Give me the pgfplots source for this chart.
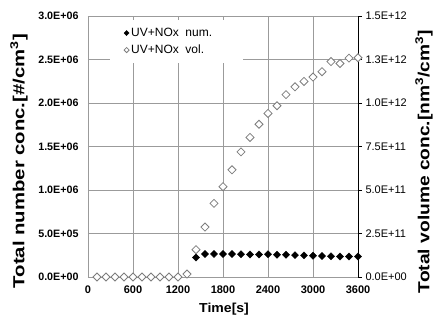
\documentclass[border=0pt]{standalone}
\usepackage{fontspec}
\setmainfont{Liberation Sans}
\usepackage{pgfplots}
\pgfplotsset{compat=1.18}
\definecolor{gridgray}{RGB}{155,155,155}
\definecolor{markgray}{RGB}{125,125,125}
\pgfplotsset{small mark legend/.style={legend image code/.code={\draw[##1, mark size=1.8pt] plot coordinates {(0.12cm,0cm)};}}}
\begin{document}
\begin{tikzpicture}
\path[use as bounding box] (-88pt,-43pt) rectangle (350pt,277pt);
\begin{axis}[
  at={(0,0)}, anchor=south west,
  scale only axis, width=270pt, height=261pt,
  xmin=0, xmax=3600, ymin=0, ymax=3000000,
  xtick={0,600,...,3600},
  ytick={0,500000,1000000,1500000,2000000,2500000,3000000},
  yticklabels={0.0E+00,5.0E+05,1.0E+06,1.5E+06,2.0E+06,2.5E+06,3.0E+06},
  scaled y ticks=false, scaled x ticks=false,
  grid=major, major grid style={gridgray, line width=0.6pt},
  axis line style={gridgray, line width=0.6pt},
  major tick length=0pt,
  /pgf/number format/assume math mode=true,
  /pgf/number format/1000 sep={},
  xticklabel style={font=\fontsize{11}{12}\selectfont\bfseries, yshift=-5pt},
  yticklabel style={font=\fontsize{10.7}{12}\selectfont\bfseries, xshift=-6pt},
  xlabel={\scalebox{1.08}[1]{Time[s]}},
  xlabel style={font=\fontsize{13}{15}\selectfont\bfseries, at={(axis description cs:0.504,-0.1226)}, anchor=center},
  ylabel={\scalebox{1.27}[1]{Total number conc.[\#/cm\textsuperscript{3}]}},
  ylabel style={font=\fontsize{16}{18}\selectfont\bfseries, at={(axis description cs:-0.2556,0.444)}, anchor=center},
]
\addplot[only marks, mark=square*, mark size=2.5pt, mark options={rotate=45, draw=black, fill=black}] coordinates {
(1440,224000) (1560,264000) (1680,265000) (1800,264000) (1920,264000)
(2040,262000) (2160,259000) (2280,259000) (2400,262000) (2520,256000)
(2640,256000) (2760,252000) (2880,248000) (3000,244000) (3120,241000)
(3240,238000) (3360,235000) (3480,235000) (3600,235000)
};
\end{axis}
\begin{axis}[
  at={(0,0)}, anchor=south west,
  scale only axis, width=270pt, height=261pt,
  xmin=0, xmax=3600, ymin=0, ymax=1.5e12,
  axis x line=none, axis y line*=right,
  ytick={0,2.5e11,5e11,7.5e11,1e12,1.25e12,1.5e12},
  yticklabels={0.0E+00,2.5E+11,5.0E+11,7.5E+11,1.0E+12,1.3E+12,1.5E+12},
  scaled y ticks=false,
  axis line style={black, line width=0.8pt, -},
  tick align=outside, major tick length=4pt, tick style={black, line width=0.8pt},
  /pgf/number format/assume math mode=true,
  yticklabel style={font=\fontsize{11}{12}\selectfont},
  ylabel={\scalebox{1.2}[1]{Total volume conc.[nm\textsuperscript{3}/cm\textsuperscript{3}]}},
  ylabel style={font=\fontsize{16}{18}\selectfont\bfseries, at={(axis description cs:1.244,0.4425)}, anchor=center},
  legend style={at={(0.081,0.985)}, anchor=north west, draw=none, fill=white,
    font=\fontsize{12}{14}\selectfont, row sep=3pt, inner ysep=6pt, inner xsep=14pt},
  legend cell align=left,
]
\addlegendimage{only marks, mark=square*, mark options={rotate=45, draw=black, fill=black}, small mark legend}
\addlegendentry{\makebox[96pt][l]{UV+NOx~ num.}}
\addplot[only marks, mark=square*, mark size=2.85pt, mark options={rotate=45, draw=markgray, fill=white, line width=0.8pt},
  small mark legend] coordinates {
(120,0) (240,0) (360,0) (480,0) (600,0) (720,0) (840,0) (960,0) (1080,0) (1200,0)
(1320,1.7e10) (1440,1.57e11) (1560,2.87e11) (1680,4.23e11) (1800,5.19e11)
(1920,6.16e11) (2040,7.19e11) (2160,8.02e11) (2280,8.78e11) (2400,9.4e11)
(2520,9.84e11) (2640,1.048e12) (2760,1.093e12) (2880,1.124e12) (3000,1.149e12)
(3120,1.18e12) (3240,1.238e12) (3360,1.227e12) (3480,1.258e12) (3600,1.26e12)
};
\addlegendentry{\makebox[96pt][l]{UV+NOx~ vol.}}
\end{axis}
\end{tikzpicture}
\end{document}
